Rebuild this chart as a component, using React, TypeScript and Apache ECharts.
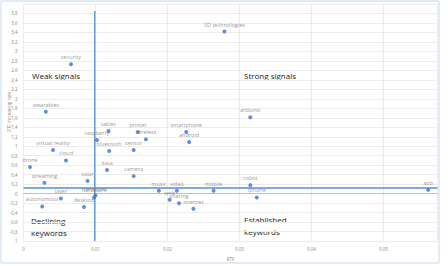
import React, { useEffect, useRef } from "react";
import * as echarts from "echarts";

// keyword names and their (RTF, RTF increasing rate) values
const keywords = [
  "security", "wearables", "3D technologies", "arduino", "tablet", "raspberry",
  "printer", "wireless", "smartphone", "android", "bluetooth", "sensor",
  "data", "camera", "virtual reality", "cloud", "drone", "streaming",
  "solar", "laser", "autonomous", "desktop", "networks", "hardware",
  "music", "video", "web", "sharing", "internet", "mobile",
  "robot", "iphone", "app",
];
const rtf = [
  0.0066, 0.0031, 0.0279, 0.0315, 0.0118, 0.0102,
  0.0159, 0.0170, 0.0226, 0.0230, 0.0119, 0.0153,
  0.0116, 0.0153, 0.0041, 0.0059, 0.0009, 0.0029,
  0.0089, 0.0052, 0.0026, 0.0084, 0.0100, 0.0098,
  0.0188, 0.0213, 0.0203, 0.0216, 0.0236, 0.0264,
  0.0315, 0.0324, 0.0562,
];
const rate = [
  2.73, 1.73, 3.42, 1.61, 1.32, 1.13,
  1.30, 1.145, 1.30, 1.09, 0.90, 0.92,
  0.50, 0.37, 0.92, 0.70, 0.56, 0.23,
  0.27, -0.10, -0.27, -0.28, -0.04, -0.08,
  0.06, 0.06, -0.13, -0.20, -0.32, 0.06,
  0.18, -0.08, 0.08,
];

// quadrant divider lines
const dividerX = 0.0099;
const dividerY = 0.12;

// axis ranges
const xMin = 0;
const xMax = 0.0575;
const xStep = 0.01;
const yMin = -1;
const yMax = 4;
const yStep = 0.2;
const dividerTop = 3.85;

// quadrant captions
const quadrantLabels = [
  { text: "Weak signals", x: 32, y: 75 },
  { text: "Strong signals", x: 244, y: 75 },
  { text: "Declining\nkeywords", x: 31, y: 226 },
  { text: "Established\nkeywords", x: 244, y: 225 },
];

const fmt = (v: number) => {
  if (Math.abs(v) < 1e-9) return "-0";
  return String(+v.toFixed(2)).replace(".", ",");
};
const fmtX = (v: number) => {
  if (Math.abs(v) < 1e-12) return "0";
  return String(+v.toFixed(3)).replace(".", ",");
};

export default function App() {
  const ref = useRef<HTMLDivElement>(null);
  useEffect(() => {
    if (!ref.current) return;
    const chart = echarts.init(ref.current, null, { renderer: "svg" });
    const points = keywords.map((k, i) => ({ name: k, value: [rtf[i], rate[i]] }));
    const font = "'Open Sans', 'Noto Sans', sans-serif";
    const lineStyle = { color: "#4f8fd6", width: 1.3, type: "solid" };
    chart.setOption({
      animation: false,
      backgroundColor: "#ffffff",
      grid: { left: 23.5, right: 10.5, top: 4, bottom: 20.7, containLabel: false },
      xAxis: {
        type: "value",
        min: xMin,
        max: xMax,
        interval: xStep,
        name: "RTF",
        nameLocation: "middle",
        nameGap: 14,
        nameTextStyle: { fontSize: 4.5, color: "#888", fontFamily: font },
        axisLine: { show: true, lineStyle: { color: "#bfbfbf", width: 1 } },
        axisTick: { show: false },
        axisLabel: {
          fontSize: 4.5,
          color: "#888",
          fontFamily: font,
          margin: 5,
          showMaxLabel: false,
          formatter: fmtX,
        },
        splitLine: { show: true, lineStyle: { color: "#ececec", width: 1 } },
      },
      yAxis: {
        type: "value",
        min: yMin,
        max: yMax,
        interval: yStep,
        axisLine: { show: false },
        axisTick: { show: false },
        axisLabel: {
          fontSize: 4.5,
          color: "#888",
          fontFamily: font,
          margin: 6,
          showMaxLabel: false,
          formatter: fmt,
        },
        splitLine: { show: true, lineStyle: { color: "#ececec", width: 1 } },
      },
      series: [
        {
          type: "line",
          data: [[xMin, dividerY], [xMax, dividerY]],
          symbol: "none",
          silent: true,
          lineStyle,
          z: 1,
        },
        {
          type: "line",
          data: [[dividerX, yMin], [dividerX, dividerTop]],
          symbol: "none",
          silent: true,
          lineStyle,
          z: 1,
        },
        {
          type: "scatter",
          data: points,
          symbolSize: 4,
          itemStyle: { color: "#3a73d6" },
          z: 3,
          label: {
            show: true,
            position: "top",
            distance: 2,
            formatter: "{b}",
            fontSize: 5.5,
            color: "#7a7a7a",
            fontFamily: font,
          },
          labelLayout: { hideOverlap: false },
        },
      ],
      graphic: [
        {
          type: "rect",
          shape: { x: 1, y: 1, width: 438, height: 262 },
          style: { fill: "none", stroke: "#c5d9ee", lineWidth: 1 },
          silent: true,
        },
        {
          type: "text",
          x: 9,
          y: 112,
          rotation: Math.PI / 2,
          style: {
            text: "RTF increasing rate",
            fontSize: 4.5,
            fill: "#888",
            fontFamily: font,
            textAlign: "center",
            textVerticalAlign: "middle",
          },
        },
        ...quadrantLabels.map((q) => ({
          type: "text",
          x: q.x,
          y: q.y,
          style: {
            text: q.text,
            fontSize: 8,
            lineHeight: 12,
            fill: "#222",
            fontFamily: font,
            textAlign: "left",
            textVerticalAlign: "middle",
          },
        })),
      ],
    });
    return () => chart.dispose();
  }, []);
  return (
    <div style={{ position: "fixed", left: 0, top: 0, width: 448, height: 266, background: "#fff" }}>
      <div ref={ref} style={{ width: 448, height: 266 }} />
    </div>
  );
}
